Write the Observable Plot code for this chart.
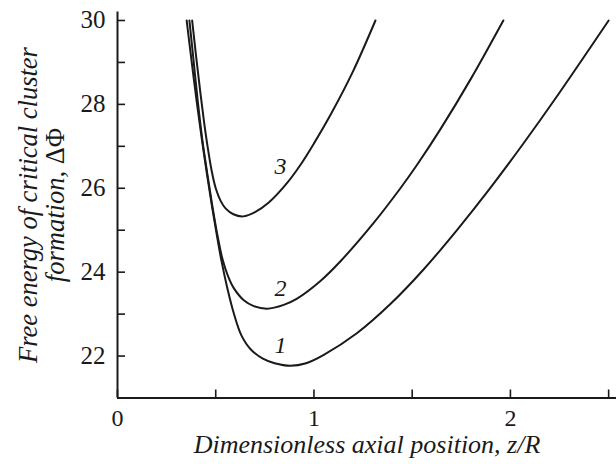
<!DOCTYPE html>
<html><head><meta charset="utf-8">
<script src="https://cdn.jsdelivr.net/npm/d3@7"></script>
<script src="https://cdn.jsdelivr.net/npm/@observablehq/plot@0.6"></script>
<style>html,body{margin:0;padding:0;background:#fff;} svg{display:block}</style>
</head><body><div id="chart"></div>
<script>
// Curve 1
const curve1X = [0.352,0.378,0.405,0.43,0.455,0.48,0.505,0.53,0.56,0.59,0.63,0.68,0.74,0.80,0.88,0.96,1.05,1.22,1.389,1.559,1.729,1.898,2.068,2.238,2.50];
const curve1Y = [30,29.0,28.0,27.15,26.35,25.6,24.9,24.25,23.6,23.05,22.5,22.15,21.94,21.83,21.77,21.83,22.03,22.55,23.24,24.07,25.01,26.01,27.08,28.2,30];
// Curve 2
const curve2X = [0.366,0.386,0.408,0.432,0.457,0.482,0.508,0.535,0.563,0.592,0.643,0.694,0.762,0.846,0.914,1.033,1.135,1.305,1.44,1.525,1.644,1.8,1.964];
const curve2Y = [30,29.1,28.1,27.15,26.35,25.6,24.9,24.3,23.9,23.62,23.33,23.19,23.13,23.22,23.37,23.79,24.26,25.18,26.0,26.56,27.41,28.62,30];
// Curve 3
const curve3X = [0.380,0.40,0.42,0.44,0.46,0.48,0.50,0.525,0.55,0.59,0.64,0.70,0.77,0.855,0.93,1.0,1.09,1.2,1.313];
const curve3Y = [30,29.15,28.35,27.6,26.95,26.4,26.0,25.7,25.52,25.38,25.33,25.43,25.66,26.08,26.55,27.07,27.8,28.8,30];

const seriesNames = ["1","2","3"];
const labelX = [0.83,0.83,0.83];
const labelY = [22.25,23.61,26.53];

const xTicks = [0,0.5,1,1.5,2,2.5];
const xTickLabels = [0,1,2];
const yTicks = [22,23,24,25,26,27,28,29,30];
const yTickLabels = [22,24,26,28,30];

const xTitle = "Dimensionless axial position, z/R";
const yTitle1 = "Free energy of critical cluster";
const yTitle2 = "formation, ΔΦ";

const W = 616, H = 464, mL = 117, mR = 0, mT = 11.6, mB = 66.5;
const xDom = [0, 2.54], yDom = [21, 30.2];
const pxX = (W - mL - mR) / (xDom[1] - xDom[0]);
const pxY = (H - mT - mB) / (yDom[1] - yDom[0]);
const tickLen = 8;
const FONT = "Liberation Serif";
const INK = "#1a1a1a";

const rows = [];
[[curve1X, curve1Y], [curve2X, curve2Y], [curve3X, curve3Y]].forEach(([xs, ys], i) => {
  xs.forEach((x, j) => rows.push({series: seriesNames[i], x, y: ys[j]}));
});
const labels = seriesNames.map((s, i) => ({s, x: labelX[i], y: labelY[i]}));

const chart = Plot.plot({
  width: W, height: H,
  marginLeft: mL, marginRight: mR, marginTop: mT, marginBottom: mB,
  style: {fontFamily: FONT, background: "#fff", color: INK},
  x: {domain: xDom},
  y: {domain: yDom},
  marks: [
    Plot.axisX({ticks: xTickLabels, tickFormat: d => String(d), tickSize: 0, tickPadding: 11, fontSize: 24, label: null, fontFamily: FONT, fill: INK}),
    Plot.axisY({ticks: yTickLabels, tickFormat: d => String(d), tickSize: 0, tickPadding: 12, fontSize: 25, label: null, fontFamily: FONT, fill: INK}),
    Plot.ruleX(xTicks, {x: d => d, y1: yDom[0], y2: yDom[0] + tickLen / pxY, stroke: INK, strokeWidth: 1.6}),
    Plot.ruleY(yTicks, {y: d => d, x1: xDom[0], x2: xDom[0] + tickLen / pxX, stroke: INK, strokeWidth: 1.6}),
    Plot.ruleX([xDom[0]], {stroke: INK, strokeWidth: 2}),
    Plot.ruleY([yDom[0]], {stroke: INK, strokeWidth: 2}),
    Plot.line(rows, {x: "x", y: "y", z: "series", curve: "catmull-rom", stroke: INK, strokeWidth: 2}),
    Plot.text(labels, {x: "x", y: "y", text: "s", fontStyle: "italic", fontSize: 24, fontFamily: FONT, fill: INK}),
    Plot.text([xTitle], {frameAnchor: "bottom", textAnchor: "middle", dy: 47, lineAnchor: "middle", fontStyle: "italic", fontSize: 26, fontFamily: FONT, fill: INK}),
    Plot.text([yTitle1], {frameAnchor: "left", textAnchor: "middle", rotate: -90, dx: -89, lineAnchor: "middle", fontStyle: "italic", fontSize: 26.5, fontFamily: FONT, fill: INK}),
    Plot.text([yTitle2], {frameAnchor: "left", textAnchor: "middle", rotate: -90, dx: -62, lineAnchor: "middle", fontStyle: "italic", fontSize: 26.5, fontFamily: FONT, fill: INK})
  ]
});
document.getElementById("chart").append(chart);
// Greek symbols upright
chart.querySelectorAll("text").forEach(t => {
  if (t.textContent === yTitle2) {
    const ns = "http://www.w3.org/2000/svg";
    t.textContent = "";
    const a = document.createElementNS(ns, "tspan"); a.textContent = "formation, ";
    const b = document.createElementNS(ns, "tspan"); b.textContent = "ΔΦ"; b.setAttribute("font-style", "normal");
    t.append(a, b);
  }
});
</script>
</body></html>
